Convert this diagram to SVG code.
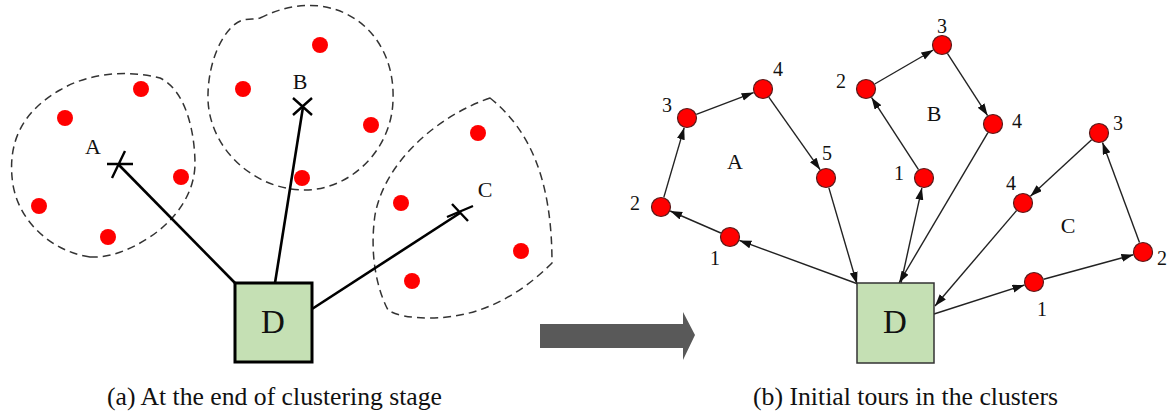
<svg xmlns="http://www.w3.org/2000/svg" width="1167" height="413" viewBox="0 0 1167 413">
<style>
.cl{fill:none;stroke:#333;stroke-width:1.5;stroke-dasharray:8,5}
.dot{fill:#FF0000}
.nd{fill:#FF0000;stroke:#5a1a1a;stroke-width:1.2}
.ln{stroke:#000;stroke-width:2.6;fill:none}
.xm{stroke:#000;stroke-width:2.4;fill:none}
.ar{stroke:#222;stroke-width:1.4;fill:none;marker-end:url(#ah)}
.lb{font-family:"Liberation Serif","Times New Roman",Times,serif;fill:#111}
.big{font-size:22px;text-anchor:middle}
.num{font-size:20px;text-anchor:middle}
.cap{font-family:"Liberation Serif","Times New Roman",Times,serif;font-size:25px;fill:#111}
</style>
<defs>
<marker id="ah" markerUnits="userSpaceOnUse" markerWidth="13" markerHeight="9" refX="12" refY="4" orient="auto">
<path d="M0,0 L12,4 L0,8 Z" fill="#111"/>
</marker>
</defs>
<rect width="1167" height="413" fill="#fff"/>

<!-- Left panel -->
<g id="clusterA">
<path class="cl" d="M90,257 C55,252 20,225 13,185 C6,140 25,110 60,90 C90,72 130,70 160,78 C185,90 195,130 195,165 C194,195 175,220 150,237 C130,250 110,258 90,257 Z"/>
<circle class="dot" cx="65" cy="118" r="8"/>
<circle class="dot" cx="141" cy="89" r="8"/>
<circle class="dot" cx="181" cy="177" r="8"/>
<circle class="dot" cx="39" cy="206" r="8"/>
<circle class="dot" cx="108" cy="237" r="8"/>
<text class="lb big" x="93" y="154">A</text>
</g>
<g id="clusterB">
<path class="cl" d="M260,18 C280,8 300,4 320,6 C365,12 395,50 393,100 C392,150 350,190 305,190 C255,190 210,150 208,100 C207,60 225,25 243,20 C250,18 255,20 260,18 Z"/>
<circle class="dot" cx="320" cy="45" r="8"/>
<circle class="dot" cx="243" cy="89" r="8"/>
<circle class="dot" cx="371" cy="125" r="8"/>
<circle class="dot" cx="302" cy="178" r="8"/>
<text class="lb big" x="300" y="89">B</text>
</g>
<g id="clusterC">
<path class="cl" d="M490,98 C530,130 552,180 552,263 C520,295 480,318 430,318 C410,318 395,315 388,310 C375,285 370,250 375,215 C385,160 440,115 490,98 Z"/>
<circle class="dot" cx="478" cy="133" r="8"/>
<circle class="dot" cx="401" cy="203" r="8"/>
<circle class="dot" cx="521" cy="251" r="8"/>
<circle class="dot" cx="412" cy="281" r="8"/>
<text class="lb big" x="485" y="197">C</text>
</g>
<g id="connectorsLeft">
<line class="ln" x1="118" y1="164" x2="235" y2="283"/>
<line class="ln" x1="303" y1="107" x2="275" y2="283"/>
<line class="ln" x1="460" y1="213" x2="312" y2="309"/>
<path class="xm" d="M107,164 L133,164 M125,151 L112,178"/>
<path class="xm" d="M293,98 L312,115 M312,98 L293,115"/>
<path class="xm" d="M447,217 L473,206 M452,204 L468,221"/>
</g>
<g id="depotLeft">
<rect x="235" y="283" width="77" height="79" fill="#C5E0B4" stroke="#000" stroke-width="3"/>
<text class="lb" x="273" y="333" font-size="33" text-anchor="middle">D</text>
</g>

<!-- Transition arrow -->
<g id="bigArrow">
<path d="M540,324 L683,324 L683,312 L695,335 L683,360 L683,348 L540,348 Z" fill="#595959"/>
</g>

<!-- Right panel -->
<g id="connectorsRight">
<line class="ar" x1="858" y1="284" x2="739.4" y2="240.4"/>
<line class="ar" x1="720.8" y1="233" x2="670.2" y2="211"/>
<line class="ar" x1="663.8" y1="197.4" x2="684.2" y2="127.6"/>
<line class="ar" x1="696.3" y1="114.4" x2="753.6" y2="92.6"/>
<line class="ar" x1="768.8" y1="97.2" x2="820.2" y2="169.8"/>
<line class="ar" x1="828.8" y1="187.6" x2="857" y2="284"/>
<line class="ar" x1="901" y1="283" x2="921.9" y2="187.8"/>
<line class="ar" x1="918.5" y1="169.6" x2="871.5" y2="97.4"/>
<line class="ar" x1="874.7" y1="84" x2="933.3" y2="50"/>
<line class="ar" x1="947.4" y1="53.4" x2="987.6" y2="115.6"/>
<line class="ar" x1="987.9" y1="132.6" x2="899" y2="283"/>
<line class="ar" x1="934" y1="314" x2="1024.5" y2="285"/>
<line class="ar" x1="1043.6" y1="279.3" x2="1133.4" y2="254.7"/>
<line class="ar" x1="1139.5" y1="242.6" x2="1102.5" y2="142.4"/>
<line class="ar" x1="1091.6" y1="139.8" x2="1030.4" y2="196.2"/>
<line class="ar" x1="1016.5" y1="210.6" x2="935" y2="306"/>
</g>
<g id="tourA">
<circle class="nd" cx="730" cy="237" r="9.5"/>
<circle class="nd" cx="661" cy="207" r="9.5"/>
<circle class="nd" cx="687" cy="118" r="9.5"/>
<circle class="nd" cx="763" cy="89" r="9.5"/>
<circle class="nd" cx="826" cy="178" r="9.5"/>
<text class="lb num" x="715" y="265">1</text>
<text class="lb num" x="635" y="210">2</text>
<text class="lb num" x="667" y="112">3</text>
<text class="lb num" x="778" y="76">4</text>
<text class="lb num" x="827" y="160">5</text>
<text class="lb big" x="735" y="169">A</text>
</g>
<g id="tourB">
<circle class="nd" cx="924" cy="178" r="9.5"/>
<circle class="nd" cx="866" cy="89" r="9.5"/>
<circle class="nd" cx="942" cy="45" r="9.5"/>
<circle class="nd" cx="993" cy="124" r="9.5"/>
<text class="lb num" x="899" y="180">1</text>
<text class="lb num" x="841" y="88">2</text>
<text class="lb num" x="942" y="33">3</text>
<text class="lb num" x="1017" y="128">4</text>
<text class="lb big" x="934" y="121">B</text>
</g>
<g id="tourC">
<circle class="nd" cx="1034" cy="282" r="9.5"/>
<circle class="nd" cx="1143" cy="252" r="9.5"/>
<circle class="nd" cx="1099" cy="133" r="9.5"/>
<circle class="nd" cx="1023" cy="203" r="9.5"/>
<text class="lb num" x="1042" y="316">1</text>
<text class="lb num" x="1162" y="265">2</text>
<text class="lb num" x="1118" y="130">3</text>
<text class="lb num" x="1011" y="190">4</text>
<text class="lb big" x="1068" y="233">C</text>
</g>
<g id="depotRight">
<rect x="857" y="283" width="77" height="80" fill="#C5E0B4" stroke="#333" stroke-width="1.5"/>
<text class="lb" x="895" y="333" font-size="33" text-anchor="middle">D</text>
</g>

<!-- Captions -->
<text class="cap" x="107" y="405" textLength="335" lengthAdjust="spacingAndGlyphs">(a) At the end of clustering stage</text>
<text class="cap" x="753" y="405" textLength="305" lengthAdjust="spacingAndGlyphs">(b) Initial tours in the clusters</text>
</svg>
